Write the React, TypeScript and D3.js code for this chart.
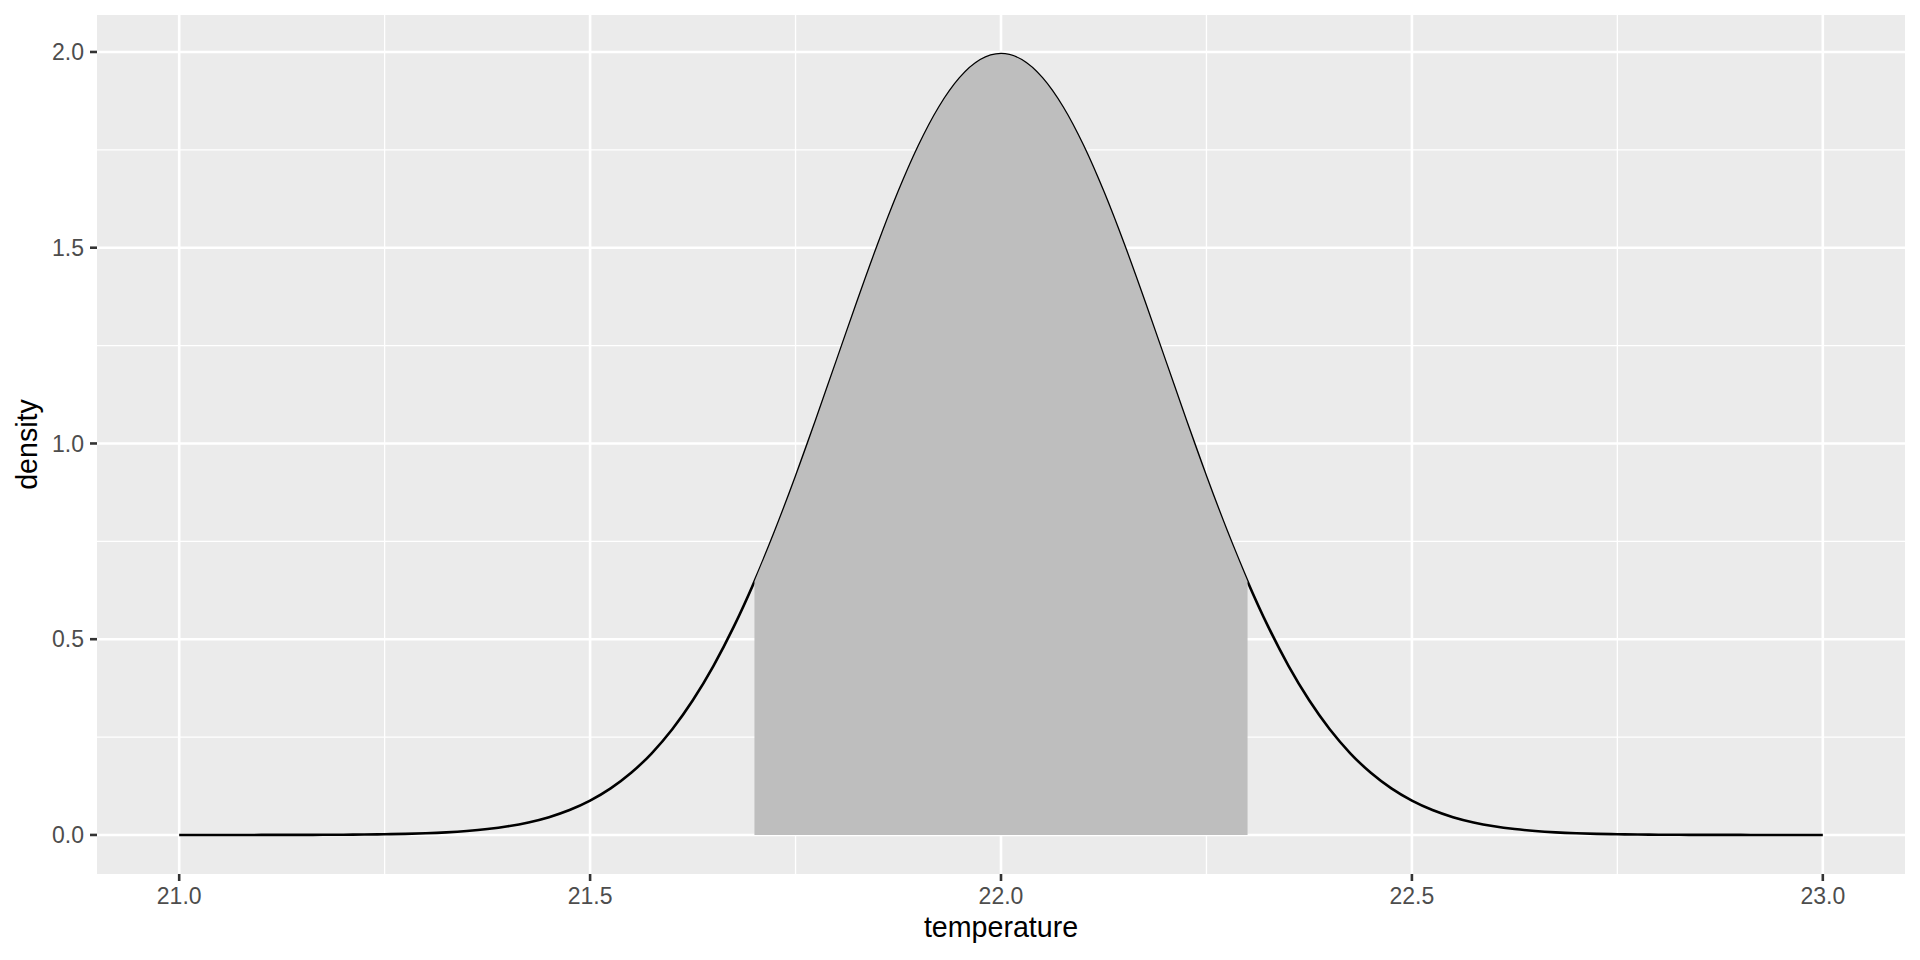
import React from "react";
import * as d3 from "d3";

const temperature = [
  21.0, 21.025, 21.05, 21.075, 21.1, 21.125, 21.15, 21.175, 21.2, 21.225,
  21.25, 21.275, 21.3, 21.325, 21.35, 21.375, 21.4, 21.425, 21.45, 21.475,
  21.5, 21.525, 21.55, 21.575, 21.6, 21.625, 21.65, 21.675, 21.7, 21.725,
  21.75, 21.775, 21.8, 21.825, 21.85, 21.875, 21.9, 21.925, 21.95, 21.975,
  22.0, 22.025, 22.05, 22.075, 22.1, 22.125, 22.15, 22.175, 22.2, 22.225,
  22.25, 22.275, 22.3, 22.325, 22.35, 22.375, 22.4, 22.425, 22.45, 22.475,
  22.5, 22.525, 22.55, 22.575, 22.6, 22.625, 22.65, 22.675, 22.7, 22.725,
  22.75, 22.775, 22.8, 22.825, 22.85, 22.875, 22.9, 22.925, 22.95, 22.975,
  23.0,
];

const density = [
  0.0, 0.00001, 0.00002, 0.00005, 0.00008, 0.00014, 0.00024, 0.0004, 0.00067, 0.00109,
  0.00176, 0.00279, 0.00436, 0.00671, 0.01015, 0.01511, 0.02216, 0.03199, 0.04547, 0.06362,
  0.08764, 0.11888, 0.1587, 0.20863, 0.26995, 0.34393, 0.43139, 0.53267, 0.64759, 0.77509,
  0.91325, 1.05936, 1.20985, 1.36028, 1.50569, 1.64081, 1.76033, 1.85928, 1.93334, 1.97919,
  1.99471,
  1.97919, 1.93334, 1.85928, 1.76033, 1.64081, 1.50569, 1.36028, 1.20985, 1.05936, 0.91325,
  0.77509, 0.64759, 0.53267, 0.43139, 0.34393, 0.26995, 0.20863, 0.1587, 0.11888, 0.08764,
  0.06362, 0.04547, 0.03199, 0.02216, 0.01511, 0.01015, 0.00671, 0.00436, 0.00279, 0.00176,
  0.00109, 0.00067, 0.0004, 0.00024, 0.00014, 0.00008, 0.00005, 0.00002, 0.00001, 0.0,
];

const shadeFrom = 21.7;
const shadeTo = 22.3;

const xTicks = [21.0, 21.5, 22.0, 22.5, 23.0];
const xTickLabels = ["21.0", "21.5", "22.0", "22.5", "23.0"];
const xMinor = [21.25, 21.75, 22.25, 22.75];
const yTicks = [0, 0.5, 1.0, 1.5, 2.0];
const yTickLabels = ["0.0", "0.5", "1.0", "1.5", "2.0"];
const yMinor = [0.25, 0.75, 1.25, 1.75];

const W = 1920;
const H = 960;
const panel = { left: 97, top: 15, right: 1905, bottom: 874 };
const FONT = "'Liberation Sans', Arial, Helvetica, sans-serif";

export default function App() {
  const pts = temperature.map((t, i) => ({ x: t, y: density[i] }));
  const xMin = d3.min(temperature)!;
  const xMax = d3.max(temperature)!;
  const yMax = d3.max(density)!;
  const xPad = (xMax - xMin) * 0.05;
  const yPad = yMax * 0.05;

  const x = d3.scaleLinear().domain([xMin - xPad, xMax + xPad]).range([panel.left, panel.right]);
  const y = d3.scaleLinear().domain([0 - yPad, yMax + yPad]).range([panel.bottom, panel.top]);

  const line = d3
    .line<{ x: number; y: number }>()
    .x((d) => x(d.x))
    .y((d) => y(d.y))
    .curve(d3.curveMonotoneX);

  const area = d3
    .area<{ x: number; y: number }>()
    .x((d) => x(d.x))
    .y0(() => y(0))
    .y1((d) => y(d.y))
    .curve(d3.curveMonotoneX);

  const shaded = pts.filter((p) => p.x >= shadeFrom - 1e-9 && p.x <= shadeTo + 1e-9);

  return (
    <svg
      width={W}
      height={H}
      style={{ position: "absolute", left: 0, top: 0, background: "#ffffff" }}
      fontFamily={FONT}
    >
      <rect x={0} y={0} width={W} height={H} fill="#ffffff" />
      <rect
        x={panel.left}
        y={panel.top}
        width={panel.right - panel.left}
        height={panel.bottom - panel.top}
        fill="#EBEBEB"
      />
      {xMinor.map((v) => (
        <line key={"xm" + v} x1={x(v)} x2={x(v)} y1={panel.top} y2={panel.bottom} stroke="#ffffff" strokeWidth={1.3} />
      ))}
      {yMinor.map((v) => (
        <line key={"ym" + v} x1={panel.left} x2={panel.right} y1={y(v)} y2={y(v)} stroke="#ffffff" strokeWidth={1.3} />
      ))}
      {xTicks.map((v) => (
        <line key={"xM" + v} x1={x(v)} x2={x(v)} y1={panel.top} y2={panel.bottom} stroke="#ffffff" strokeWidth={2.6} />
      ))}
      {yTicks.map((v) => (
        <line key={"yM" + v} x1={panel.left} x2={panel.right} y1={y(v)} y2={y(v)} stroke="#ffffff" strokeWidth={2.6} />
      ))}

      <path d={line(pts) || ""} fill="none" stroke="#000000" strokeWidth={2.6} />
      <path d={area(shaded) || ""} fill="#BEBEBE" stroke="none" />

      {xTicks.map((v, i) => (
        <g key={"xt" + v}>
          <line x1={x(v)} x2={x(v)} y1={panel.bottom} y2={panel.bottom + 7} stroke="#333333" strokeWidth={2.6} />
          <text x={x(v)} y={panel.bottom + 30} textAnchor="middle" fontSize={23} fill="#4D4D4D">
            {xTickLabels[i]}
          </text>
        </g>
      ))}
      {yTicks.map((v, i) => (
        <g key={"yt" + v}>
          <line x1={panel.left - 7} x2={panel.left} y1={y(v)} y2={y(v)} stroke="#333333" strokeWidth={2.6} />
          <text x={panel.left - 13} y={y(v) + 8.2} textAnchor="end" fontSize={23} fill="#4D4D4D">
            {yTickLabels[i]}
          </text>
        </g>
      ))}

      <text x={(panel.left + panel.right) / 2} y={937} textAnchor="middle" fontSize={28.6} fill="#000000">
        temperature
      </text>
      <text
        transform={`translate(37, ${(panel.top + panel.bottom) / 2}) rotate(-90)`}
        textAnchor="middle"
        fontSize={28.6}
        fill="#000000"
      >
        density
      </text>
    </svg>
  );
}
